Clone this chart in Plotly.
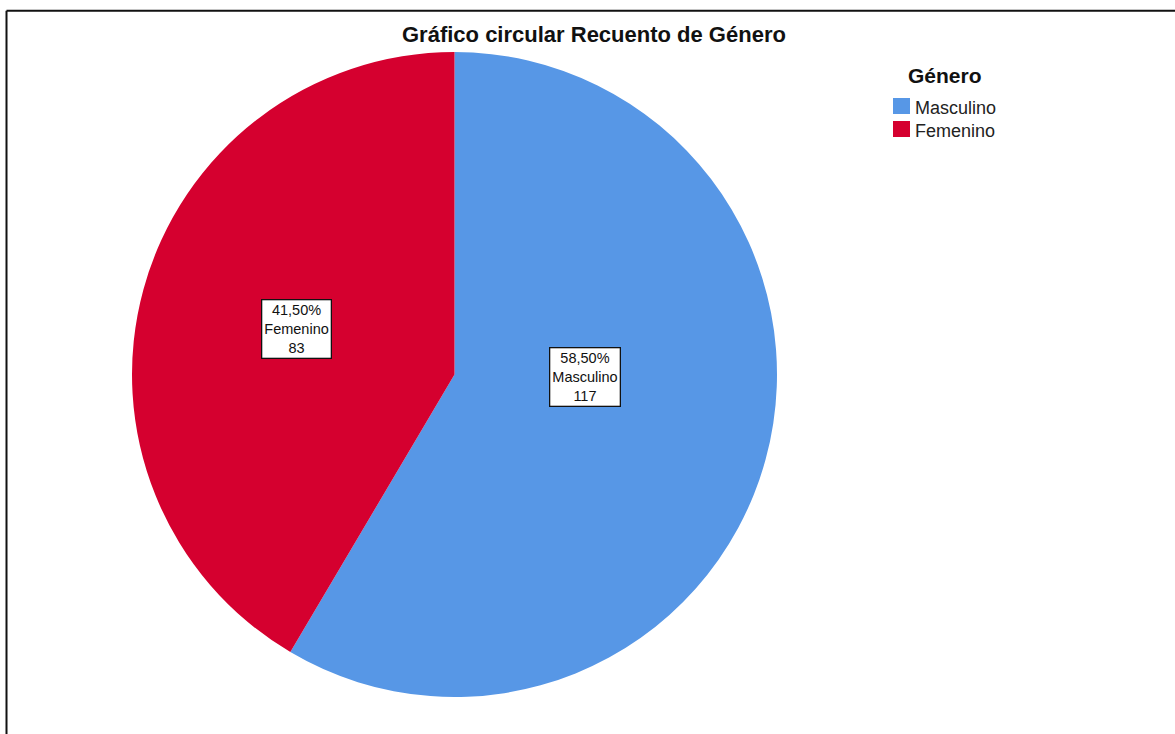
import plotly.graph_objects as go

categories = ["Masculino", "Femenino"]
counts = [117, 83]
percents = ["58,50%", "41,50%"]
colors = ["#5797E6", "#D5002F"]
title_text = "Gráfico circular Recuento de Género"
legend_title = "Género"

W, H = 1175, 734
cx, cy, R = 454.5, 374.5, 322.5
FONT = "Liberation Sans, Arial, sans-serif"


def px(x):
    return x / W


def py(y):
    return 1 - y / H


fig = go.Figure(go.Pie(
    labels=categories,
    values=counts,
    sort=False,
    direction="clockwise",
    rotation=0,
    textinfo="none",
    showlegend=False,
    marker=dict(colors=colors, line=dict(width=0)),
    domain=dict(x=[px(cx - R), px(cx + R)], y=[py(cy + R), py(cy - R)]),
    hoverinfo="label+value+percent",
))

# data labels: boxed three-line text
label_centers = [(585, 376.5), (296, 329)]
for cat, n, p, (lx, ly) in zip(categories, counts, percents, label_centers):
    fig.add_annotation(
        x=px(lx), y=py(ly), xref="paper", yref="paper",
        text=f"{p}<br>{cat}<br>{n}", showarrow=False,
        xanchor="center", yanchor="middle", align="center",
        font=dict(family=FONT, size=14.5, color="#111"),
        bgcolor="white", bordercolor="#111", borderwidth=1.3, borderpad=2,
    )

# title
fig.add_annotation(
    x=px(594), y=py(35), xref="paper", yref="paper",
    text=f"<b>{title_text}</b>", showarrow=False, xanchor="center", yanchor="middle",
    font=dict(family=FONT, size=22, color="#111"),
)

# custom legend
fig.add_annotation(
    x=px(945), y=py(75), xref="paper", yref="paper",
    text=f"<b>{legend_title}</b>", showarrow=False, xanchor="center", yanchor="middle",
    font=dict(family=FONT, size=21, color="#111"),
)
for i, (cat, col) in enumerate(zip(categories, colors)):
    yc = 106 + i * 23
    fig.add_shape(type="rect", xref="paper", yref="paper",
                  x0=px(893), x1=px(910), y0=py(yc + 8), y1=py(yc - 8),
                  fillcolor=col, line=dict(width=0))
    fig.add_annotation(
        x=px(913), y=py(yc + 1.5), xref="paper", yref="paper",
        text=cat, showarrow=False, xanchor="left", yanchor="middle",
        font=dict(family=FONT, size=18, color="#222"),
    )

# frame
fig.add_shape(type="line", xref="paper", yref="paper",
              x0=px(6.5), x1=1.05, y0=py(10.8), y1=py(10.8),
              line=dict(color="#111", width=2))
fig.add_shape(type="line", xref="paper", yref="paper",
              x0=px(6.5), x1=px(6.5), y0=py(10.8), y1=-0.05,
              line=dict(color="#111", width=2))

fig.update_layout(
    width=W, height=H,
    margin=dict(l=0, r=0, t=0, b=0),
    paper_bgcolor="white", plot_bgcolor="white",
    font=dict(family=FONT, color="black"),
    showlegend=False,
)

fig.write_html("out.html", config={"displayModeBar": False},
               post_script="document.body.style.margin='0';document.body.style.padding='0';")
